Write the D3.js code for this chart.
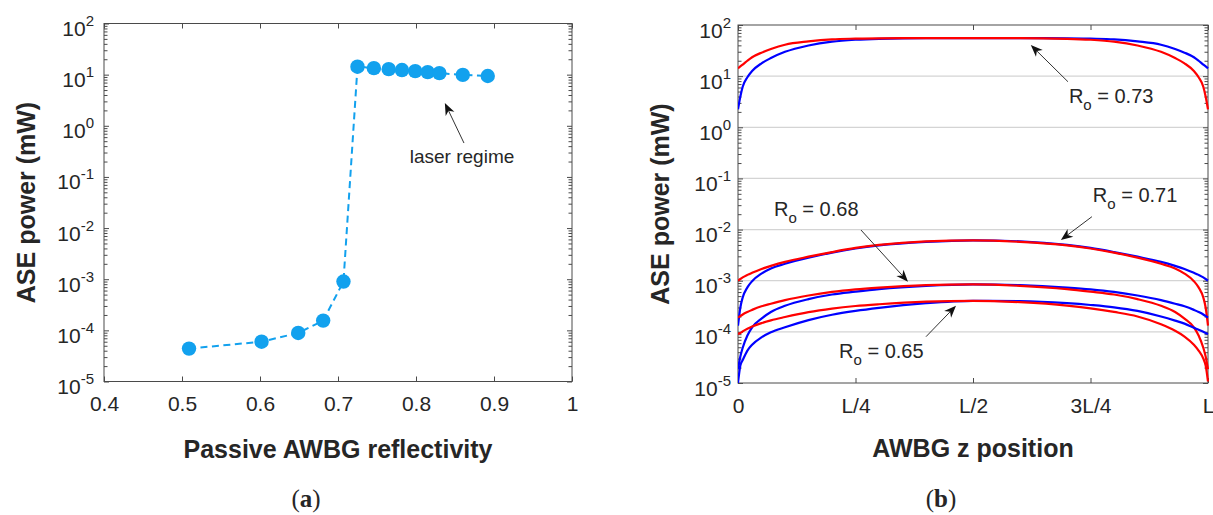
<!DOCTYPE html>
<html>
<head>
<meta charset="utf-8">
<script src="https://cdn.jsdelivr.net/npm/d3@7"></script>
<style>
  body { margin: 0; background: #fff; }
  text { font-family: "Liberation Sans", Arial, Helvetica, sans-serif; fill: #262626; }
</style>
</head>
<body>
<svg id="fig" width="1213" height="515"></svg>
<script>
// ---- panel (a): ASE power vs passive AWBG reflectivity ----
const reflectivity = [0.509, 0.602, 0.649, 0.681, 0.707, 0.725, 0.746, 0.765, 0.782, 0.799, 0.815, 0.830, 0.860, 0.892];
const asePowerA = [4.4e-5, 6.0e-5, 8.9e-5, 1.55e-4, 9.0e-4, 14.3, 13.4, 12.8, 12.3, 11.7, 11.2, 10.7, 9.9, 9.4];
const xTicksA = [0.4, 0.5, 0.6, 0.7, 0.8, 0.9, 1.0];
const xTickLabelsA = ["0.4", "0.5", "0.6", "0.7", "0.8", "0.9", "1"];

// ---- panel (b): ASE power along the grating (z in units of L) ----
const zPos = [0, 0.005, 0.01, 0.02, 0.03, 0.05, 0.07, 0.1, 0.15, 0.2, 0.25, 0.3, 0.4, 0.5,
              0.6, 0.7, 0.75, 0.8, 0.85, 0.9, 0.93, 0.95, 0.97, 0.98, 0.99, 0.995, 1];
const red073 = [14.2, 15.5, 16.8, 20.0, 23.4, 28.8, 33.9, 41.2, 47.9, 52.5, 54.1, 55.0, 55.2, 55.2,
                55.2, 53.7, 51.5, 47.3, 39.8, 29.9, 22.6, 17.8, 12.6, 9.5, 6.2, 4.0, 2.24];
const blue073 = [2.24, 4.0, 6.2, 9.5, 12.6, 17.8, 22.6, 29.9, 39.8, 47.3, 51.5, 53.7, 55.2, 55.2,
                 55.2, 55.0, 54.1, 52.5, 47.9, 41.2, 33.9, 28.8, 23.4, 20.0, 16.8, 15.5, 14.2];
const red071 = [1.00e-3, 1.08e-3, 1.16e-3, 1.30e-3, 1.43e-3, 1.70e-3, 1.95e-3, 2.34e-3, 2.95e-3, 3.63e-3, 4.37e-3, 5.01e-3, 5.89e-3, 6.17e-3,
                5.75e-3, 4.90e-3, 4.27e-3, 3.55e-3, 2.82e-3, 2.14e-3, 1.74e-3, 1.38e-3, 9.8e-4, 7.4e-4, 4.7e-4, 3.0e-4, 1.32e-4];
const blue071 = [1.32e-4, 3.0e-4, 4.7e-4, 7.4e-4, 9.8e-4, 1.38e-3, 1.74e-3, 2.14e-3, 2.82e-3, 3.55e-3, 4.27e-3, 4.90e-3, 5.75e-3, 6.17e-3,
                 5.89e-3, 5.01e-3, 4.37e-3, 3.63e-3, 2.95e-3, 2.34e-3, 1.95e-3, 1.70e-3, 1.43e-3, 1.30e-3, 1.16e-3, 1.08e-3, 1.00e-3];
const red068 = [1.9e-4, 2.04e-4, 2.19e-4, 2.45e-4, 2.69e-4, 3.16e-4, 3.55e-4, 4.17e-4, 5.13e-4, 6.03e-4, 6.76e-4, 7.33e-4, 8.2e-4, 8.5e-4,
                7.94e-4, 6.84e-4, 6.1e-4, 5.37e-4, 4.37e-4, 3.24e-4, 2.45e-4, 1.82e-4, 1.23e-4, 8.5e-5, 4.9e-5, 3.3e-5, 1.86e-5];
const blue068 = [1.86e-5, 3.3e-5, 4.9e-5, 8.5e-5, 1.23e-4, 1.82e-4, 2.45e-4, 3.24e-4, 4.37e-4, 5.37e-4, 6.1e-4, 6.84e-4, 7.94e-4, 8.5e-4,
                 8.2e-4, 7.33e-4, 6.76e-4, 6.03e-4, 5.13e-4, 4.17e-4, 3.55e-4, 3.16e-4, 2.69e-4, 2.45e-4, 2.19e-4, 2.04e-4, 1.9e-4];
const red065 = [9.1e-5, 9.5e-5, 1.02e-4, 1.15e-4, 1.27e-4, 1.48e-4, 1.68e-4, 1.95e-4, 2.43e-4, 2.85e-4, 3.2e-4, 3.47e-4, 3.89e-4, 4.03e-4,
                3.8e-4, 3.27e-4, 2.88e-4, 2.45e-4, 2.0e-4, 1.41e-4, 1.05e-4, 8.1e-5, 5.6e-5, 4.3e-5, 3.0e-5, 2.2e-5, 1.07e-5];
const blue065 = [1.0e-5, 2.2e-5, 2.8e-5, 4.3e-5, 5.6e-5, 7.8e-5, 9.8e-5, 1.23e-4, 1.70e-4, 2.16e-4, 2.57e-4, 2.95e-4, 3.63e-4, 4.03e-4,
                 3.98e-4, 3.63e-4, 3.35e-4, 3.02e-4, 2.57e-4, 2.0e-4, 1.66e-4, 1.45e-4, 1.2e-4, 1.1e-4, 1.0e-4, 9.5e-5, 9.1e-5];
const xTicksB = [0, 0.25, 0.5, 0.75, 1];
const xTickLabelsB = ["0", "L/4", "L/2", "3L/4", "L"];

const decades = [1e-5, 1e-4, 1e-3, 1e-2, 1e-1, 1e0, 1e1, 1e2];
const minorVals = [];
decades.slice(0, -1).forEach(d => { for (let m = 2; m <= 9; m++) minorVals.push(m * d); });

// annotation anchors in data units
const laserNote = { label: [0.792, 0.187], from: [0.8615, 0.46], to: [0.837, 2.79] };
const roNotes = [
  { value: "0.73", label: [0.704, 2.94], from: [0.702, 7.78], to: [0.623, 40.6] },
  { value: "0.71", label: [0.755, 0.0351], from: [0.753, 0.01786], to: [0.687, 0.00625] },
  { value: "0.68", label: [0.0766, 0.0184], from: [0.2617, 0.0098], to: [0.3617, 9.55e-4] },
  { value: "0.65", label: [0.215, 3.04e-5], from: [0.40, 8.04e-5], to: [0.4638, 3.24e-4] }
];

const svg = d3.select("#fig");
svg.append("rect").attr("width", 1213).attr("height", 515).attr("fill", "#fff");

const axisColor = "#4a4a4a";

function supLabels(g) {
  g.selectAll(".tick text").each(function (d) {
    const t = d3.select(this);
    const e = Math.round(Math.log10(d));
    t.text(null).attr("dy", null).attr("y", 12);
    t.append("tspan").text("10");
    t.append("tspan").attr("dy", -10).attr("font-size", 15).text(e);
  });
}

function styleAxis(g) {
  g.attr("font-size", 21)
   .attr("font-family", "'Liberation Sans', Arial, sans-serif")
   .attr("color", axisColor);
  g.select(".domain").remove();
  g.selectAll(".tick text").attr("fill", "#262626");
}

function drawFrame(x, y, xTicks, xLabels, labelPad, grid) {
  const [x0, x1] = x.range();
  const [y0, y1] = y.range();
  const g = svg.append("g");

  if (grid) {
    g.append("g").selectAll("line")
      .data(decades.slice(1, -1))
      .join("line")
      .attr("x1", x0).attr("x2", x1)
      .attr("y1", d => y(d)).attr("y2", d => y(d))
      .attr("stroke", "#d4d4d4").attr("stroke-width", 1.3);
  }

  // left log axis with labels
  g.append("g").attr("transform", `translate(${x0},0)`)
    .call(d3.axisLeft(y).tickValues(decades).tickSize(-5).tickSizeOuter(0).tickPadding(labelPad))
    .call(styleAxis).call(supLabels);
  g.append("g").attr("transform", `translate(${x0},0)`)
    .call(d3.axisLeft(y).tickValues(minorVals).tickSize(-3.5).tickSizeOuter(0).tickFormat(""))
    .call(styleAxis);
  // right mirror ticks
  g.append("g").attr("transform", `translate(${x1},0)`)
    .call(d3.axisRight(y).tickValues(decades).tickSize(-5).tickSizeOuter(0).tickFormat(""))
    .call(styleAxis);
  g.append("g").attr("transform", `translate(${x1},0)`)
    .call(d3.axisRight(y).tickValues(minorVals).tickSize(-3.5).tickSizeOuter(0).tickFormat(""))
    .call(styleAxis);
  // bottom + top
  g.append("g").attr("transform", `translate(0,${y0})`)
    .call(d3.axisBottom(x).tickValues(xTicks).tickSize(-5).tickSizeOuter(0).tickPadding(15)
      .tickFormat((d, i) => xLabels[i]))
    .call(styleAxis);
  g.append("g").attr("transform", `translate(0,${y1})`)
    .call(d3.axisTop(x).tickValues(xTicks).tickSize(-5).tickSizeOuter(0).tickFormat(""))
    .call(styleAxis);

  g.append("rect")
    .attr("x", x0).attr("y", y1)
    .attr("width", x1 - x0).attr("height", y0 - y1)
    .attr("fill", "none").attr("stroke", axisColor).attr("stroke-width", 1);
}

function arrow(g, p1, p2) {
  const dx = p2[0] - p1[0], dy = p2[1] - p1[1];
  const len = Math.hypot(dx, dy);
  const ux = dx / len, uy = dy / len, nx = -uy, ny = ux;
  const L = 12, w = 4.8, notch = 3.5;
  g.append("line")
    .attr("x1", p1[0]).attr("y1", p1[1])
    .attr("x2", p2[0] - ux * (L - notch)).attr("y2", p2[1] - uy * (L - notch))
    .attr("stroke", "#333").attr("stroke-width", 1);
  const pts = [
    [p2[0], p2[1]],
    [p2[0] - ux * L + nx * w, p2[1] - uy * L + ny * w],
    [p2[0] - ux * (L - notch), p2[1] - uy * (L - notch)],
    [p2[0] - ux * L - nx * w, p2[1] - uy * L - ny * w]
  ];
  g.append("polygon").attr("points", pts.map(p => p.join(",")).join(" ")).attr("fill", "#111");
}

function axisTitles(cx, cy, xTitle, xTitleX, xTitleY, yTitleX) {
  svg.append("text")
    .attr("transform", `translate(${yTitleX},${cy}) rotate(-90)`)
    .attr("text-anchor", "middle")
    .attr("font-size", 25).attr("font-weight", "bold")
    .text("ASE power (mW)");
  svg.append("text")
    .attr("x", xTitleX).attr("y", xTitleY)
    .attr("text-anchor", "middle")
    .attr("font-size", 25).attr("font-weight", "bold")
    .text(xTitle);
}

function panelTag(cx, letter) {
  const t = svg.append("text")
    .attr("x", cx).attr("y", 507)
    .attr("text-anchor", "middle")
    .attr("font-size", 25)
    .style("font-family", "'Liberation Serif', 'DejaVu Serif', serif");
  t.append("tspan").text("(");
  t.append("tspan").attr("font-weight", "bold").text(letter);
  t.append("tspan").text(")");
}

// ================= panel (a) =================
const xA = d3.scaleLinear().domain([0.4, 1]).range([104, 572]);
const yA = d3.scaleLog().domain([1e-5, 1e2]).range([381.5, 23.5]);

drawFrame(xA, yA, xTicksA, xTickLabelsA, 10, false);

const ptsA = reflectivity.map((r, i) => ({ r, p: asePowerA[i] }));
const markerColor = "#12a1ee";

svg.append("path")
  .datum(ptsA)
  .attr("fill", "none")
  .attr("stroke", markerColor)
  .attr("stroke-width", 2)
  .attr("stroke-dasharray", "7,4.5")
  .attr("d", d3.line().x(d => xA(d.r)).y(d => yA(d.p)));

svg.append("g").selectAll("circle")
  .data(ptsA)
  .join("circle")
  .attr("cx", d => xA(d.r))
  .attr("cy", d => yA(d.p))
  .attr("r", 7.2)
  .attr("fill", markerColor);

const annA = svg.append("g");
arrow(annA, [xA(laserNote.from[0]), yA(laserNote.from[1])], [xA(laserNote.to[0]), yA(laserNote.to[1])]);
annA.append("text")
  .attr("x", xA(laserNote.label[0])).attr("y", yA(laserNote.label[1]))
  .attr("font-size", 19)
  .text("laser regime");

axisTitles(338, 202.5, "Passive AWBG reflectivity", 338, 458, 35);
panelTag(306, "a");

// ================= panel (b) =================
const xB = d3.scaleLinear().domain([0, 1]).range([738, 1208]);
const yB = d3.scaleLog().domain([1e-5, 1e2]).range([383, 25]);

drawFrame(xB, yB, xTicksB, xTickLabelsB, 7, true);

svg.append("clipPath").attr("id", "clipB")
  .append("rect").attr("x", 738).attr("y", 24).attr("width", 471).attr("height", 360);

const curves = [
  { color: "#0000ff", vals: blue073 }, { color: "#ff0000", vals: red073 },
  { color: "#0000ff", vals: blue071 }, { color: "#ff0000", vals: red071 },
  { color: "#0000ff", vals: blue068 }, { color: "#ff0000", vals: red068 },
  { color: "#0000ff", vals: blue065 }, { color: "#ff0000", vals: red065 }
];

const lineB = d3.line()
  .x(d => xB(d[0]))
  .y(d => yB(d[1]))
  .curve(d3.curveMonotoneX);

svg.append("g").attr("clip-path", "url(#clipB)")
  .selectAll("path")
  .data(curves)
  .join("path")
  .attr("fill", "none")
  .attr("stroke", d => d.color)
  .attr("stroke-width", 2.2)
  .attr("d", d => lineB(zPos.map((z, i) => [z, d.vals[i]])));

const annB = svg.append("g");
roNotes.forEach(n => {
  arrow(annB, [xB(n.from[0]), yB(n.from[1])], [xB(n.to[0]), yB(n.to[1])]);
  const t = annB.append("text")
    .attr("x", xB(n.label[0])).attr("y", yB(n.label[1]))
    .attr("font-size", 20);
  t.append("tspan").text("R");
  t.append("tspan").attr("dy", 7).attr("font-size", 15).text("o");
  t.append("tspan").attr("dy", -7).text(" = " + n.value);
});

axisTitles(973, 204, "AWBG z position", 973, 457, 669);
panelTag(941, "b");
</script>
</body>
</html>
